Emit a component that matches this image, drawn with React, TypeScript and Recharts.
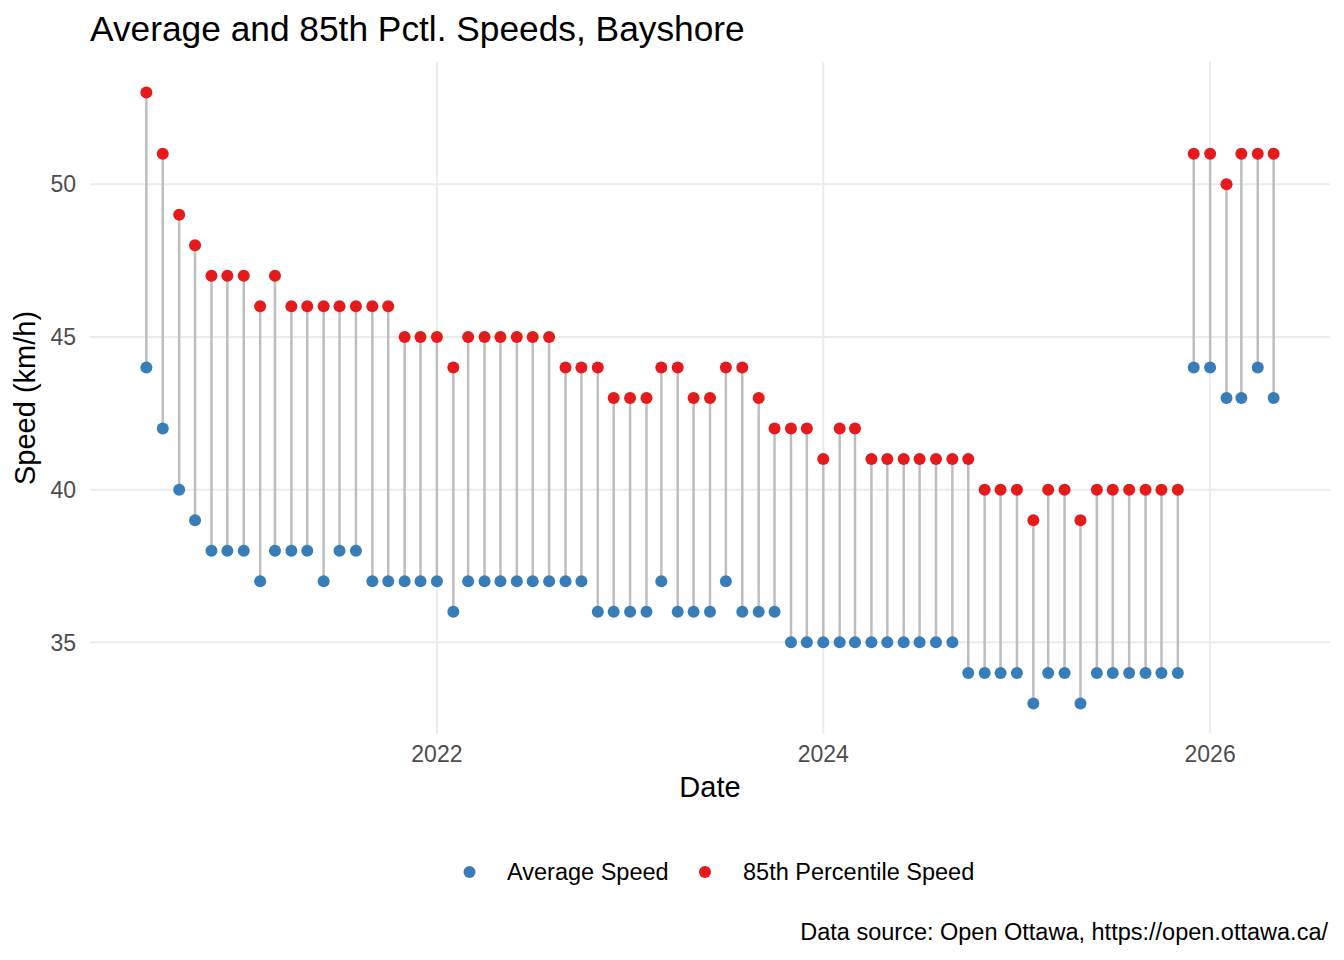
import React from 'react';
import { ComposedChart, Scatter, XAxis, YAxis, CartesianGrid, ReferenceLine } from 'recharts';

const months = [
  '2020-07', '2020-08', '2020-09', '2020-10', '2020-11', '2020-12',
  '2021-01', '2021-02', '2021-03', '2021-04', '2021-05', '2021-06', '2021-07', '2021-08', '2021-09', '2021-10', '2021-11', '2021-12',
  '2022-01', '2022-02', '2022-03', '2022-04', '2022-05', '2022-06', '2022-07', '2022-08', '2022-09', '2022-10', '2022-11', '2022-12',
  '2023-01', '2023-02', '2023-03', '2023-04', '2023-05', '2023-06', '2023-07', '2023-08', '2023-09', '2023-10', '2023-11', '2023-12',
  '2024-01', '2024-02', '2024-03', '2024-04', '2024-05', '2024-06', '2024-07', '2024-08', '2024-09', '2024-10', '2024-11', '2024-12',
  '2025-01', '2025-02', '2025-03', '2025-04', '2025-05', '2025-06', '2025-07', '2025-08', '2025-09', '2025-10', '2025-11', '2025-12',
  '2026-01', '2026-02', '2026-03', '2026-04', '2026-05',
];

const avgSpeed = [
  44, 42, 40, 39, 38, 38,
  38, 37, 38, 38, 38, 37, 38, 38, 37, 37, 37, 37,
  37, 36, 37, 37, 37, 37, 37, 37, 37, 37, 36, 36,
  36, 36, 37, 36, 36, 36, 37, 36, 36, 36, 35, 35,
  35, 35, 35, 35, 35, 35, 35, 35, 35, 34, 34, 34,
  34, 33, 34, 34, 33, 34, 34, 34, 34, 34, 34, 44,
  44, 43, 43, 44, 43,
];

const pct85Speed = [
  53, 51, 49, 48, 47, 47,
  47, 46, 47, 46, 46, 46, 46, 46, 46, 46, 45, 45,
  45, 44, 45, 45, 45, 45, 45, 45, 44, 44, 44, 43,
  43, 43, 44, 44, 43, 43, 44, 44, 43, 42, 42, 42,
  41, 42, 42, 41, 41, 41, 41, 41, 41, 41, 40, 40,
  40, 39, 40, 40, 39, 40, 40, 40, 40, 40, 40, 51,
  51, 50, 51, 51, 51,
];

const yearTicks = ['2022', '2024', '2026'];
const speedTicks = [35, 40, 45, 50];

const BLUE = '#377EB8';
const RED = '#E41A1C';
const FONT = '"Liberation Sans", Arial, sans-serif';

const toTime = (ym: string) => {
  const [y, m] = ym.split('-').map(Number);
  return Date.UTC(y, m - 1, 1);
};

const rows = months.map((m, i) => ({ t: toTime(m), avg: avgSpeed[i], p85: pct85Speed[i] }));

const tMin = rows[0].t;
const tMax = rows[rows.length - 1].t;
const pad = (tMax - tMin) * 0.05;
const xTicks = yearTicks.map((y) => Date.UTC(Number(y), 0, 1));

const dot = (color: string) => (props: any) =>
  <circle cx={props.cx} cy={props.cy} r={6} fill={color} />;

export default function App() {
  return (
    <div style={{ position: 'absolute', left: 0, top: 0, width: 1344, height: 960, background: '#fff', fontFamily: FONT }}>
      <ComposedChart
        width={1344}
        height={960}
        data={rows}
        margin={{ top: 62, right: 14, bottom: 186, left: 0 }}
      >
        <CartesianGrid stroke="#EBEBEB" strokeWidth={2} syncWithTicks />
        <XAxis
          dataKey="t"
          type="number"
          scale="time"
          domain={[tMin - pad, tMax + pad]}
          ticks={xTicks}
          tickFormatter={(v) => String(new Date(v).getUTCFullYear())}
          axisLine={false}
          tickLine={false}
          tickSize={0}
          tickMargin={12}
          height={40}
          tick={{ fill: '#4D4D4D', fontSize: 23, fontFamily: FONT }}
          allowDataOverflow
        />
        <YAxis
          type="number"
          domain={[32, 54]}
          ticks={speedTicks}
          axisLine={false}
          tickLine={false}
          tickSize={0}
          tickMargin={14}
          width={90}
          tick={{ fill: '#4D4D4D', fontSize: 23, fontFamily: FONT }}
          allowDataOverflow
        />
        {rows.map((r) => (
          <ReferenceLine
            key={r.t}
            segment={[{ x: r.t, y: r.avg }, { x: r.t, y: r.p85 }]}
            stroke="#BEBEBE"
            strokeWidth={2.5}
          />
        ))}
        <Scatter name="Average Speed" dataKey="avg" fill={BLUE} shape={dot(BLUE)} isAnimationActive={false} />
        <Scatter name="85th Percentile Speed" dataKey="p85" fill={RED} shape={dot(RED)} isAnimationActive={false} />
      </ComposedChart>
      <svg
        width={1344}
        height={960}
        style={{ position: 'absolute', left: 0, top: 0, pointerEvents: 'none' }}
        fontFamily={FONT}
      >
        <text x={90} y={41} fontSize={35.3} fill="#000">Average and 85th Pctl. Speeds, Bayshore</text>
        <text x={710} y={797} fontSize={29} fill="#000" textAnchor="middle">Date</text>
        <text transform="translate(35,398) rotate(-90)" fontSize={29} fill="#000" textAnchor="middle">Speed (km/h)</text>
        <circle cx={469.5} cy={872} r={6} fill={BLUE} />
        <text x={507} y={880} fontSize={23.5} fill="#000">Average Speed</text>
        <circle cx={705} cy={872} r={6} fill={RED} />
        <text x={743} y={880} fontSize={23.5} fill="#000">85th Percentile Speed</text>
        <text x={1328} y={940} fontSize={23.5} fill="#000" textAnchor="end">Data source: Open Ottawa, https://open.ottawa.ca/</text>
      </svg>
    </div>
  );
}
